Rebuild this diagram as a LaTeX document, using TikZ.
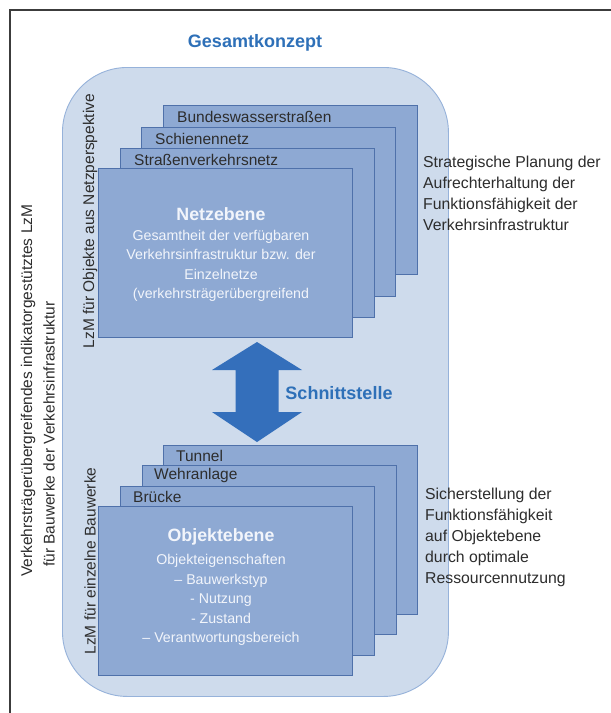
\documentclass[tikz,border=0pt]{standalone}
\usepackage{fontspec}
\setmainfont{Liberation Sans}
\definecolor{frameline}{RGB}{60,60,60}
\definecolor{outerfill}{RGB}{206,219,236}
\definecolor{outerline}{RGB}{150,178,218}
\definecolor{cardfill}{RGB}{142,169,211}
\definecolor{cardline}{RGB}{79,113,170}
\definecolor{cardtext}{RGB}{242,245,251}
\definecolor{labeltext}{RGB}{45,45,45}
\definecolor{arrowblue}{RGB}{52,111,187}
\definecolor{titleblue}{RGB}{46,112,184}
\begin{document}
\begin{tikzpicture}[x=1pt,y=-1pt,
  card/.style={draw=cardline, fill=cardfill, line width=0.9pt, minimum width=254pt,
    minimum height=169pt, anchor=north west, inner sep=0pt},
  tab/.style={anchor=west, inner sep=0pt, text=labeltext, font=\fontsize{15.5}{18}\selectfont},
  head/.style={inner sep=0pt, text=cardtext, font=\bfseries\fontsize{17.8}{20}\selectfont},
  body/.style={inner sep=0pt, text=cardtext, align=center, font=\fontsize{14.2}{19.5}\selectfont},
  side/.style={inner sep=0pt, text=labeltext, align=left, anchor=west, font=\fontsize{15.8}{21}\selectfont},
  vert/.style={inner sep=0pt, text=labeltext, rotate=90, font=\fontsize{15.5}{18}\selectfont},
  accent/.style={inner sep=0pt, text=titleblue, font=\bfseries\fontsize{18}{21}\selectfont},
]
% page and frame
\path[use as bounding box, fill=white] (0,0) rectangle (611,713);
\draw[frameline, line width=1.3pt] (10,713) -- (10,10) -- (611,10);

% overall concept area
\node[draw=outerline, fill=outerfill, line width=0.9pt, rounded corners=65pt,
  minimum width=386pt, minimum height=629pt, anchor=north west, inner sep=0pt]
  (konzept) at (62,67) {};
\node[accent] (gesamt) at (255,43) {Gesamtkonzept};

% network level: stacked cards
\node[card] (bund) at (163,105) {};
\node[card] (schiene) at (141,127) {};
\node[card] (strasse) at (120,148) {};
\node[card] (netz) at (98,168) {};
\node[tab] (bundlbl) at ([xshift=14pt,yshift=-12pt]bund.north west) {Bundeswasserstraßen};
\node[tab] (schienelbl) at ([xshift=14pt,yshift=-12pt]schiene.north west) {Schienennetz};
\node[tab] (strasselbl) at ([xshift=14pt,yshift=-12pt]strasse.north west) {Straßenverkehrsnetz};
\node[head] (netzhead) at (221,214) {Netzebene};
\node[body] (netzbody) at (221,266) {Gesamtheit der verfügbaren\\Verkehrsinfrastruktur bzw. der\\Einzelnetze\\(verkehrsträgerübergreifend};

% object level: stacked cards
\node[card] (tunnel) at (163,445) {};
\node[card] (wehr) at (142,465) {};
\node[card] (bruecke) at (120,486) {};
\node[card] (objekt) at (98,506) {};
\node[tab] (tunnellbl) at ([xshift=13pt,yshift=-10.5pt]tunnel.north west) {Tunnel};
\node[tab] (wehrlbl) at ([xshift=12pt,yshift=-10.5pt]wehr.north west) {Wehranlage};
\node[tab] (bruecklbl) at ([xshift=13pt,yshift=-11pt]bruecke.north west) {Brücke};
\node[head] (objhead) at (221,537) {Objektebene};
\node[body] (objbody) at (221,600) {Objekteigenschaften\\– Bauwerkstyp\\- Nutzung\\- Zustand\\– Verantwortungsbereich};

% interface arrow between the two levels
\coordinate (up) at (257,342);
\coordinate (down) at (257,442);
\fill[arrowblue] (up) -- ([xshift=45pt,yshift=-28pt]up) -- ([xshift=21.5pt,yshift=-28pt]up)
  -- ([xshift=21.5pt,yshift=30pt]down) -- ([xshift=45pt,yshift=30pt]down) -- (down)
  -- ([xshift=-45pt,yshift=30pt]down) -- ([xshift=-21.5pt,yshift=30pt]down)
  -- ([xshift=-21.5pt,yshift=-28pt]up) -- ([xshift=-45pt,yshift=-28pt]up) -- cycle;
\node[accent] (schnitt) at (339,393) {Schnittstelle};

% side descriptions
\node[side] (strat) at (423,193) {Strategische Planung der\\Aufrechterhaltung der\\Funktionsfähigkeit der\\Verkehrsinfrastruktur};
\node[side] (sicher) at (425,537) {Sicherstellung der\\Funktionsfähigkeit\\auf Objektebene\\durch optimale\\Ressourcennutzung};

% vertical captions
\node[vert, anchor=west] (lzmeins) at (28,577) {Verkehrsträgerübergreifendes indikatorgestütztes LzM};
\node[vert, anchor=west] (lzmzwei) at (49,567) {für Bauwerke der Verkehrsinfrastruktur};
\node[vert] (netzlzm) at (90,221) {LzM für Objekte aus Netzperspektive};
\node[vert] (objlzm) at (90,561) {LzM für einzelne Bauwerke};
\end{tikzpicture}
\end{document}
